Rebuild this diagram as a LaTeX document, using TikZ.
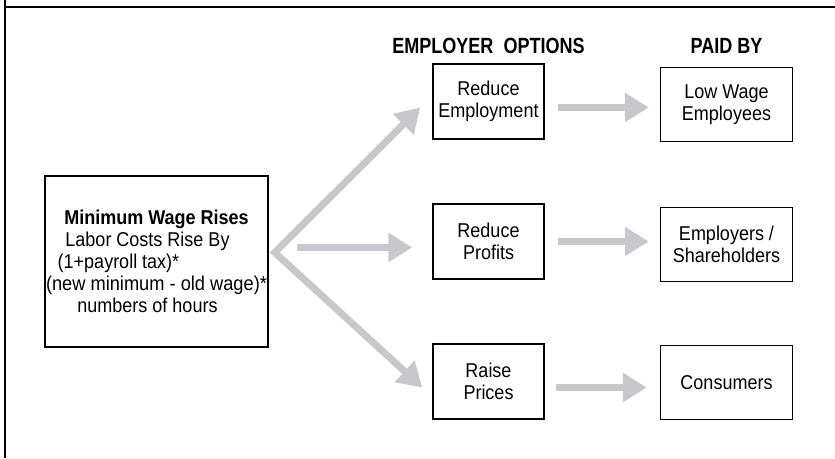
\documentclass[tikz,border=0pt]{standalone}
\usepackage{fontspec}
\setmainfont{Liberation Sans}[FakeStretch=0.9]
\newfontfamily\headfont[FakeStretch=0.82]{Liberation Sans}
\usetikzlibrary{positioning, arrows.meta}

\definecolor{arrowgray}{RGB}{200,199,204}

\begin{document}
\begin{tikzpicture}[x=1pt, y=1pt, on grid,
    box/.style={draw, line width=1.5pt, align=center, inner sep=0pt,
                font=\fontsize{20}{22}\selectfont},
    optbox/.style={box, minimum width=111pt, minimum height=75pt},
    paybox/.style={box, minimum width=132pt, minimum height=74pt},
    heading/.style={font=\headfont\bfseries\fontsize{22}{24}\selectfont},
    fat/.style={draw=arrowgray, line width=7pt, line join=miter,
                -{Triangle[length=24pt, width=28pt]}},
    frame/.style={line width=1.3pt}]
    \useasboundingbox (0,0) rectangle (835,458);

    % Frame
    \draw[frame] (5,0) -- (5,458);
    \draw[frame] (5,451) -- (835,451);

    % Nodes
    \node[box, minimum width=223pt, minimum height=171pt] (wage) at (156.5,196.5)
        {\textbf{Minimum Wage Rises}\\
         Labor Costs Rise By\hspace*{18pt}\mbox{}\\
         (1+payroll tax)*\hspace*{76pt}\mbox{}\\
         \resizebox{221pt}{\height}{(new minimum - old wage)*}\\
         numbers of hours\hspace*{18pt}\mbox{}};

    \node[optbox] (profits) [above right=20pt and 332pt of wage] {Reduce\\Profits};
    \node[optbox] (employ) [above=140pt of profits] {Reduce\\Employment};
    \node[optbox] (prices) [below=140pt of profits] {Raise\\Prices};

    \node[paybox] (workers) [right=238pt of employ, yshift=-3pt] {Low Wage\\Employees};
    \node[paybox] (owners) [right=238pt of profits, yshift=-3pt] {Employers /\\Shareholders};
    \node[paybox] (buyers) [right=238pt of prices, yshift=-1pt] {Consumers};

    \node[heading] (options) [above=56pt of employ] {EMPLOYER~ OPTIONS};
    \node[heading] (payers) [above=59pt of workers] {PAID BY};

    % Arrows
    \coordinate (fork) at ([shift={(6pt,9pt)}]wage.east);
    \coordinate (uptip) at ([shift={(-12pt,-6pt)}]employ.west);
    \coordinate (lowtip) at ([shift={(-10pt,-6pt)}]prices.west);

    \draw[fat, {Triangle[length=24pt, width=28pt]}-{Triangle[length=24pt, width=28pt]}]
        (uptip) -- (fork) -- (lowtip);
    \draw[fat, shorten <=28pt, shorten >=20pt]
        ([yshift=-6pt]wage.east |- profits.west) -- ([yshift=-6pt]profits.west);

    \draw[fat, shorten <=13pt, shorten >=11pt]
        ([yshift=-6pt]employ.east) -- ([yshift=-6pt]employ.east -| workers.west);
    \draw[fat, shorten <=13pt, shorten >=11pt]
        (profits.east) -- (profits.east -| owners.west);
    \draw[fat, shorten <=11pt, shorten >=13pt]
        ([yshift=-6pt]prices.east) -- ([yshift=-6pt]prices.east -| buyers.west);

\end{tikzpicture}
\end{document}
